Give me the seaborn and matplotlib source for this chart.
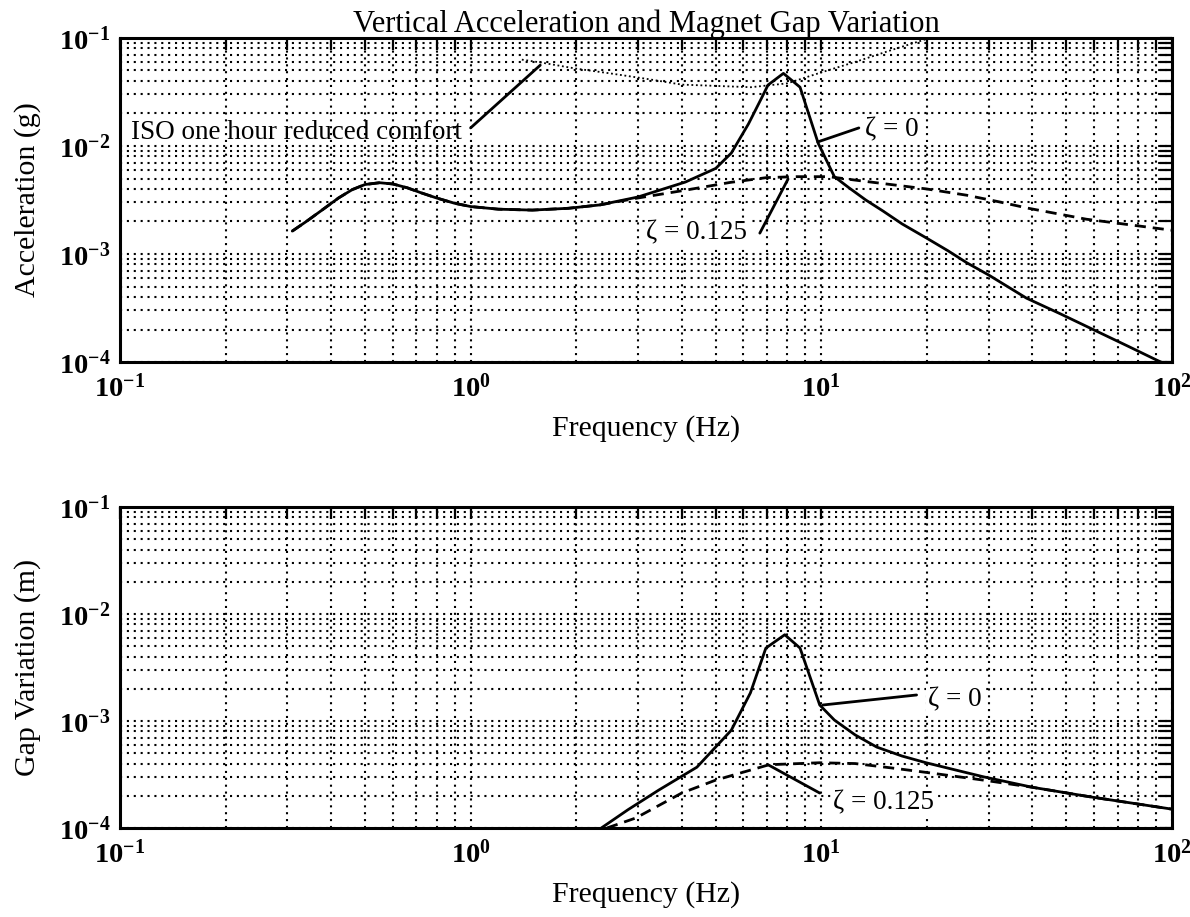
import numpy as np
import pandas as pd
import matplotlib
matplotlib.use("Agg")
import matplotlib.pyplot as plt
from matplotlib.ticker import LogLocator, NullFormatter, FuncFormatter
import seaborn as sns

# ---- vertical acceleration (g) ----
acc_freq_z0 = [0.31, 0.34, 0.38, 0.42, 0.46, 0.50, 0.55, 0.60, 0.66, 0.72, 0.80, 0.90,
               1.0, 1.2, 1.5, 1.9, 2.34, 3.0, 4.1, 5.0, 5.54, 6.2, 6.78, 7.05, 7.8, 8.7,
               9.8, 10.9, 12.0, 13.4, 15.0, 17.0, 20.0, 23.0, 26.0, 30.0, 38.5, 48.0,
               59.6, 75.0, 90.6, 100.0]
acc_z0 = [1.63e-3, 2.0e-3, 2.6e-3, 3.3e-3, 3.95e-3, 4.4e-3, 4.57e-3, 4.45e-3, 4.1e-3,
          3.7e-3, 3.3e-3, 2.95e-3, 2.75e-3, 2.6e-3, 2.55e-3, 2.65e-3, 2.85e-3, 3.37e-3,
          4.64e-3, 6.2e-3, 8.6e-3, 1.6e-2, 2.84e-2, 3.67e-2, 4.7e-2, 3.5e-2, 1.06e-2,
          5.2e-3, 4.1e-3, 3.16e-3, 2.5e-3, 1.9e-3, 1.4e-3, 1.07e-3, 8.3e-4, 6.4e-4,
          3.9e-4, 2.8e-4, 2.0e-4, 1.4e-4, 1.04e-4, 9.0e-5]

acc_freq_z125 = [0.31, 0.34, 0.38, 0.42, 0.46, 0.50, 0.55, 0.60, 0.66, 0.72, 0.80, 0.90,
                 1.0, 1.2, 1.5, 1.9, 2.34, 3.0, 4.1, 5.5, 7.0, 8.5, 10.5, 12.7, 16.7,
                 20.0, 26.0, 32.0, 39.0, 57.0, 100.0]
acc_z125 = [1.63e-3, 2.0e-3, 2.6e-3, 3.3e-3, 3.95e-3, 4.4e-3, 4.57e-3, 4.45e-3, 4.1e-3,
            3.7e-3, 3.3e-3, 2.95e-3, 2.75e-3, 2.6e-3, 2.55e-3, 2.65e-3, 2.85e-3, 3.3e-3,
            3.9e-3, 4.6e-3, 5.1e-3, 5.2e-3, 5.2e-3, 4.8e-3, 4.3e-3, 4.0e-3, 3.5e-3,
            3.05e-3, 2.65e-3, 2.1e-3, 1.66e-3]

# ISO 2631 one-hour reduced comfort boundary
iso_freq = [1.4, 1.6, 2.0, 2.5, 3.15, 4.0, 5.0, 6.3, 8.0, 10.0, 12.5, 16.0, 20.0]
iso_acc = [0.063, 0.059, 0.052, 0.047, 0.042, 0.037, 0.036, 0.035, 0.038, 0.048, 0.060,
           0.078, 0.098]

# ---- magnet gap variation (m) ----
gap_freq_z0 = [2.36, 2.81, 3.44, 4.42, 5.54, 6.28, 6.95, 7.87, 8.7, 9.9, 10.9, 12.5,
               14.4, 17.0, 19.9, 24.0, 29.1, 40.0, 58.7, 100.0]
gap_z0 = [1.0e-4, 1.48e-4, 2.26e-4, 3.7e-4, 8.2e-4, 1.83e-3, 4.8e-3, 6.4e-3, 4.8e-3,
          1.41e-3, 1.02e-3, 7.4e-4, 5.7e-4, 4.7e-4, 4.07e-4, 3.5e-4, 3.0e-4, 2.4e-4,
          1.95e-4, 1.5e-4]

gap_freq_z125 = [2.45, 2.96, 4.0, 5.0, 7.1, 9.9, 12.5, 16.3, 20.0, 29.0, 40.0, 58.7, 100.0]
gap_z125 = [1.0e-4, 1.24e-4, 2.12e-4, 2.8e-4, 3.9e-4, 4.07e-4, 4.0e-4, 3.6e-4, 3.3e-4,
            2.8e-4, 2.4e-4, 1.95e-4, 1.5e-4]

sns.set_style("white")
plt.rcParams["font.family"] = ["Liberation Serif", "DejaVu Serif"]
plt.rcParams["mathtext.fontset"] = "custom"
plt.rcParams["mathtext.rm"] = "Liberation Serif"
plt.rcParams["mathtext.bf"] = "Liberation Serif:bold"
plt.rcParams["text.color"] = "black"
plt.rcParams["axes.labelcolor"] = "black"

FS_TITLE = 22
FS_LABEL = 21.5
FS_NOTE = 19.5
FS_TICK = 20.5

fig = plt.figure(figsize=(11.9, 9.17), dpi=100)
ax1 = fig.add_axes([0.1008, 0.6052, 0.8840, 0.3534])
ax2 = fig.add_axes([0.1008, 0.0971, 0.8840, 0.3500])

grid_style = dict(color="black", linestyle=(0, (1, 2.3)), linewidth=1.5)
decade_fmt = FuncFormatter(lambda v, pos: r"$\mathbf{10^{%d}}$" % int(round(np.log10(v))))
note_box = dict(facecolor="white", edgecolor="none", pad=1.0)


def style_axes(ax, ylabel):
    ax.set_xscale("log")
    ax.set_yscale("log")
    ax.set_xlim(0.1, 100)
    ax.set_ylim(1e-4, 1e-1)
    for axis in (ax.xaxis, ax.yaxis):
        axis.set_major_locator(LogLocator(base=10, numticks=10))
        axis.set_minor_locator(LogLocator(base=10, subs=np.arange(2, 10), numticks=20))
        axis.set_major_formatter(decade_fmt)
        axis.set_minor_formatter(NullFormatter())
    ax.grid(True, which="both", **grid_style)
    ax.tick_params(which="both", direction="in", top=True, right=True,
                   width=1.6, color="black", labelsize=FS_TICK, labelcolor="black")
    ax.tick_params(which="both", length=8.5)
    ax.tick_params(axis="x", which="major", pad=9)
    ax.tick_params(axis="y", which="major", pad=7)
    for sp in ax.spines.values():
        sp.set_visible(True)
        sp.set_color("black")
        sp.set_linewidth(2.2)
    ax.set_xlabel("Frequency (Hz)", fontsize=FS_LABEL, labelpad=9)
    ax.set_ylabel(ylabel, fontsize=FS_LABEL, labelpad=13)


# top panel
sns.lineplot(x=acc_freq_z0, y=acc_z0, ax=ax1, color="black", linewidth=2.0)
sns.lineplot(x=acc_freq_z125, y=acc_z125, ax=ax1, color="black", linewidth=2.0,
             linestyle=(0, (4, 2.5)))
sns.lineplot(x=iso_freq, y=iso_acc, ax=ax1, color="black", linewidth=1.3,
             linestyle=(0, (1, 1.5)))
style_axes(ax1, "Acceleration (g)")
ax1.set_title("Vertical Acceleration and Magnet Gap Variation", fontsize=FS_TITLE, pad=4)

ax1.plot([1.0, 1.58], [0.0147, 0.056], color="black", linewidth=2.0)
ax1.text(0.944, 0.0132, "ISO one hour reduced comfort", fontsize=FS_NOTE,
         ha="right", va="center")
ax1.plot([9.77, 12.8], [0.0109, 0.0147], color="black", linewidth=2.0)
ax1.text(13.3, 0.0141, "ζ = 0", fontsize=FS_NOTE, ha="left", va="center", bbox=note_box)
ax1.plot([6.68, 8.04], [1.56e-3, 4.94e-3], color="black", linewidth=2.0)
ax1.text(6.14, 1.56e-3, "ζ = 0.125", fontsize=FS_NOTE, ha="right", va="center",
         bbox=note_box)

# bottom panel
sns.lineplot(x=gap_freq_z0, y=gap_z0, ax=ax2, color="black", linewidth=2.0)
sns.lineplot(x=gap_freq_z125, y=gap_z125, ax=ax2, color="black", linewidth=2.0,
             linestyle=(0, (4, 2.5)))
style_axes(ax2, "Gap Variation (m)")

ax2.plot([10.1, 18.7], [1.41e-3, 1.75e-3], color="black", linewidth=2.0)
ax2.text(20.1, 1.57e-3, "ζ = 0", fontsize=FS_NOTE, ha="left", va="center", bbox=note_box)
ax2.plot([7.05, 9.9], [3.9e-4, 2.12e-4], color="black", linewidth=2.0)
ax2.text(10.8, 1.71e-4, "ζ = 0.125", fontsize=FS_NOTE, ha="left", va="center",
         bbox=note_box)

fig.savefig("out.png", dpi=100)
